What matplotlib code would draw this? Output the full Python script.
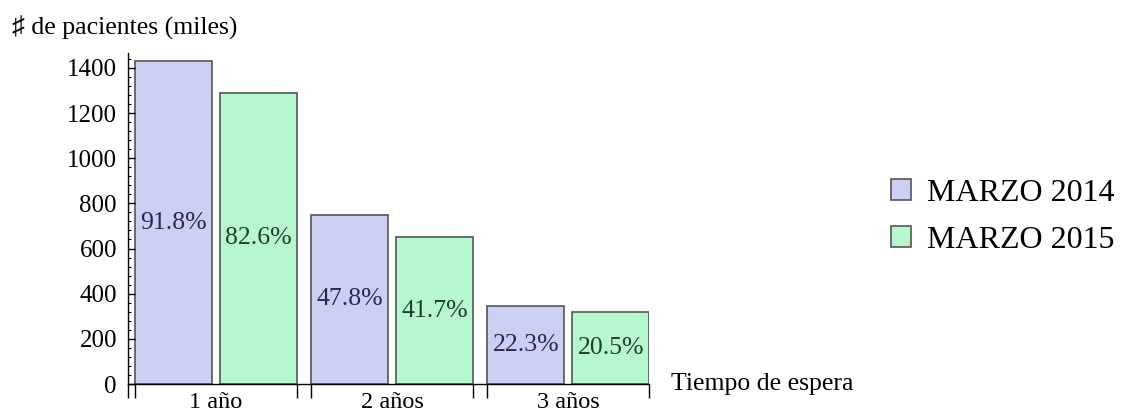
import numpy as np
import matplotlib
matplotlib.use("Agg")
import matplotlib.pyplot as plt
from matplotlib.ticker import MultipleLocator

plt.rcParams['font.family'] = ['Liberation Serif', 'DejaVu Sans']

groups = ["1 año", "2 años", "3 años"]
series = ["MARZO 2014", "MARZO 2015"]
values_2014 = [1430, 750, 345]
values_2015 = [1290, 650, 320]
pct_2014 = ["91.8%", "47.8%", "22.3%"]
pct_2015 = ["82.6%", "41.7%", "20.5%"]

fill = ["#cbcff3", "#b6f7cd"]
txt = ["#26285a", "#1f4030"]
edge = "#555555"

fig = plt.figure(figsize=(11.21, 4.13), dpi=100)
ax = fig.add_axes([0.1142, 0.0702, 0.4648, 0.8015])

w = 0.436
gap = 0.045
x0 = np.arange(len(groups), dtype=float)
x1 = x0 + w + gap

b1 = ax.bar(x0, values_2014, width=w, align="edge", color=fill[0], edgecolor=edge, linewidth=1.2, label=series[0])
b2 = ax.bar(x1, values_2015, width=w, align="edge", color=fill[1], edgecolor=edge, linewidth=1.2, label=series[1])

for xs, vals, labs, c in [(x0, values_2014, pct_2014, txt[0]), (x1, values_2015, pct_2015, txt[1])]:
    for x, v, l in zip(xs, vals, labs):
        ax.text(x + w / 2, v / 2, l, ha="center", va="center", fontsize=18.5, color=c)

ax.set_xlim(-0.04, x1[-1] + w)
ax.set_ylim(0, 1466)

for s in ["top", "right"]:
    ax.spines[s].set_visible(False)
ax.spines["left"].set_linewidth(1.0)
ax.spines["bottom"].set_linewidth(1.0)

ax.yaxis.set_major_locator(MultipleLocator(200))
ax.yaxis.set_minor_locator(MultipleLocator(40))
ax.tick_params(axis="y", which="major", direction="in", length=5, width=1, pad=8, labelsize=18)
ax.tick_params(axis="y", which="minor", direction="in", length=2.5, width=0.8)

# group boundary ticks below the axis
bounds = [-0.04] + [v for x in x0 for v in (x, x + 2 * w + gap)]
ax.set_xticks(bounds)
ax.set_xticklabels([""] * len(bounds))
ax.tick_params(axis="x", which="major", direction="out", length=10, width=1)
for x, g in zip(x0, groups):
    ax.text(x + w + gap / 2, -0.025, g, transform=ax.get_xaxis_transform(),
            ha="center", va="top", fontsize=17.5)

fig.text(0.0107, 0.932, "♯ de pacientes (miles)", ha="left", va="center", fontsize=18.5)
fig.text(0.599, 0.0702, "Tiempo de espera", ha="left", va="center", fontsize=18.5)

fig.legend(handles=[b1, b2], loc="center left", bbox_to_anchor=(0.7695, 0.475),
           frameon=False, fontsize=23, handlelength=0.62, handleheight=0.62,
           handletextpad=0.5, labelspacing=0.58)

fig.savefig("out.png", dpi=100)
